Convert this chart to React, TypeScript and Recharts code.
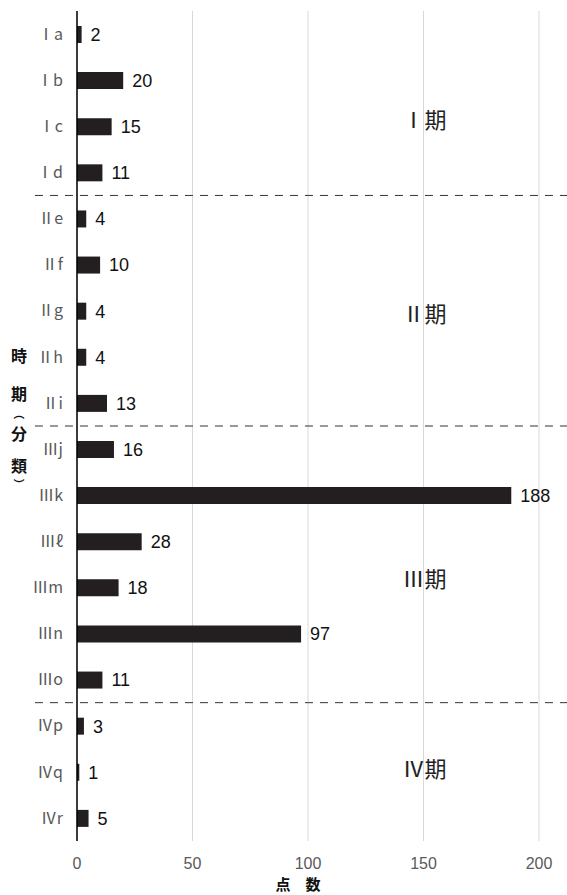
import React from 'react';
import {
  BarChart,
  Bar,
  XAxis,
  YAxis,
  CartesianGrid,
  LabelList,
  ReferenceLine,
  ReferenceDot,
} from 'recharts';

const categories = [
  'Ⅰa', 'Ⅰb', 'Ⅰc', 'Ⅰd',
  'Ⅱe', 'Ⅱf', 'Ⅱg', 'Ⅱh', 'Ⅱi',
  'Ⅲj', 'Ⅲk', 'Ⅲℓ', 'Ⅲm', 'Ⅲn', 'Ⅲo',
  'Ⅳp', 'Ⅳq', 'Ⅳr',
];
const counts = [2, 20, 15, 11, 4, 10, 4, 4, 13, 16, 188, 28, 18, 97, 11, 3, 1, 5];
const xTicks = [0, 50, 100, 150, 200];
const periodBoundaries = [3.5, 8.5, 14.5];
const periodLabels = ['Ⅰ期', 'Ⅱ期', 'Ⅲ期', 'Ⅳ期'];
const periodLabelRows = [1.82, 6.03, 11.78, 15.9];

const data = categories.map((c, i) => ({ idx: i, name: c, value: counts[i] }));
const yTicks = categories.map((_, i) => i);

const CJK = "'Noto Sans CJK JP', 'Noto Sans', sans-serif";
const NUM = "'Liberation Sans Narrow', 'Liberation Sans', Arial, sans-serif";

const titleChars = [
  { ch: '時', dy: -71, fs: 16 },
  { ch: '期', dy: -33, fs: 16 },
  { ch: '︵', dy: -13, fs: 11 },
  { ch: '分', dy: 7, fs: 16 },
  { ch: '類', dy: 39, fs: 16 },
  { ch: '︶', dy: 58, fs: 11 },
];

const YTitle = (props: any) => {
  const vb = props.viewBox || { x: 0, y: 0, width: 0, height: 0 };
  const cy = vb.y + vb.height / 2;
  return (
    <g>
      {titleChars.map((t, i) => (
        <text
          key={i}
          x={vb.x + 19}
          y={cy + t.dy}
          textAnchor="middle"
          dominantBaseline="central"
          fontFamily={CJK}
          fontSize={t.fs}
          fontWeight="bold"
          fill="#111"
        >
          {t.ch}
        </text>
      ))}
    </g>
  );
};

export default function App() {
  return (
    <div style={{ position: 'absolute', left: 0, top: 0, background: '#fff' }}>
      <BarChart
        width={567}
        height={895}
        data={data}
        layout="vertical"
        margin={{ top: 11, right: 28, bottom: 0, left: 0 }}
      >
        <CartesianGrid horizontal={false} stroke="#d9d9d9" />
        <XAxis
          type="number"
          dataKey="value"
          domain={[0, 200]}
          allowDataOverflow
          ticks={xTicks}
          axisLine={false}
          tickLine={false}
          tickMargin={11}
          height={54}
          tick={{ fill: '#595959', fontSize: 16, fontFamily: NUM }}
          label={{
            value: '点　数',
            position: 'insideBottom',
            offset: 5,
            dx: -10,
            fill: '#111',
            fontSize: 15,
            fontWeight: 'bold',
            fontFamily: CJK,
          }}
        />
        <YAxis
          type="number"
          scale="linear"
          dataKey="idx"
          domain={[-0.5, 17.5]}
          allowDataOverflow
          ticks={yTicks}
          interval={0}
          width={77}
          tickFormatter={(v: number) => categories[v] ?? ''}
          axisLine={{ stroke: '#000', strokeWidth: 1.5 }}
          tickLine={false}
          tickMargin={8}
          tick={{ fill: '#595959', fontSize: 16, fontFamily: CJK }}
          label={{ content: YTitle }}
        />
        {periodBoundaries.map((b) => (
          <ReferenceLine
            key={b}
            segment={[
              { x: -18.2, y: b },
              { x: 212.5, y: b },
            ]}
            ifOverflow="visible"
            stroke="#333"
            strokeWidth={1}
            strokeDasharray="8 7"
          />
        ))}
        {periodLabels.map((t, i) => (
          <ReferenceDot
            key={t}
            x={160}
            y={periodLabelRows[i]}
            r={0}
            ifOverflow="visible"
            shape={(p: any) => (
              <text
                x={p.cx}
                y={p.cy}
                textAnchor="end"
                dominantBaseline="central"
                fontFamily={CJK}
                fontSize={22}
                fill="#222"
              >
                {t}
              </text>
            )}
          />
        ))}
        <Bar dataKey="value" fill="#231f20" barSize={17} isAnimationActive={false}>
          <LabelList
            dataKey="value"
            position="right"
            offset={9}
            fill="#111"
            fontSize={18}
            fontFamily={NUM}
          />
        </Bar>
      </BarChart>
    </div>
  );
}
